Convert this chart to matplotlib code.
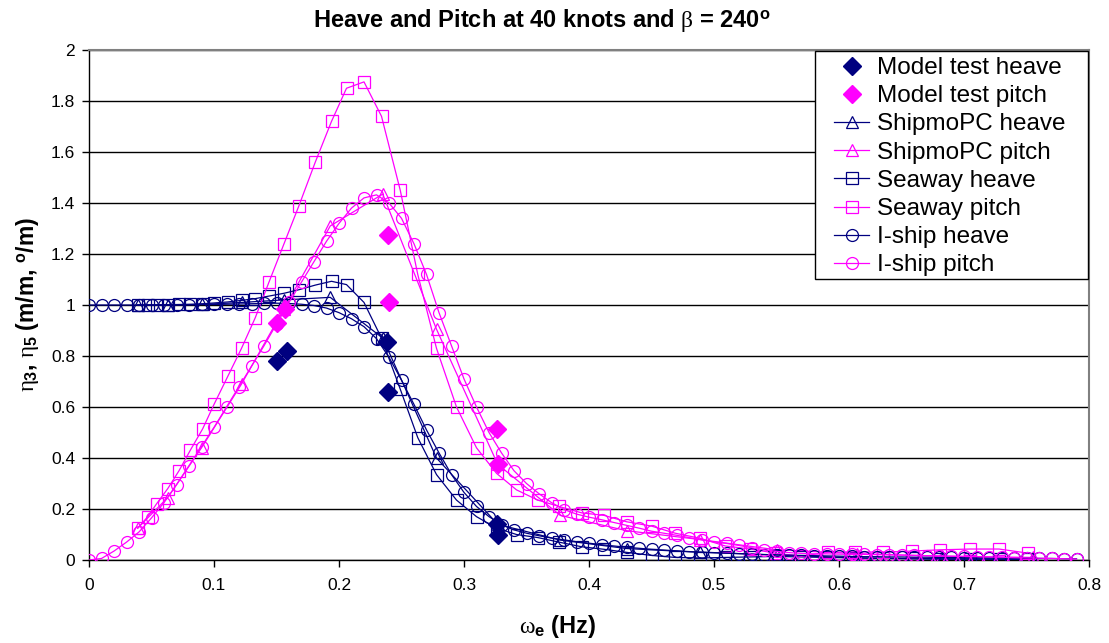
import matplotlib
matplotlib.use("Agg")
import matplotlib.pyplot as plt
from matplotlib.patches import Rectangle

plt.rcParams["font.family"] = ["Liberation Sans", "DejaVu Sans"]
plt.rcParams["mathtext.fontset"] = "custom"
plt.rcParams["mathtext.rm"] = "Liberation Sans"
plt.rcParams["mathtext.bf"] = "Liberation Sans:bold"
plt.rcParams["mathtext.it"] = "Liberation Serif"

# ---- data -------------------------------------------------------------
# Model tests (encounter frequency, Hz)
test_heave_x = [0.150, 0.158, 0.238, 0.239, 0.326, 0.327]
test_heave_y = [0.78, 0.82, 0.855, 0.66, 0.14, 0.10]
test_pitch_x = [0.150, 0.157, 0.239, 0.240, 0.326, 0.327]
test_pitch_y = [0.93, 0.985, 1.275, 1.01, 0.515, 0.375]

# ShipmoPC
shipmo_x = [0.039, 0.063, 0.090, 0.122, 0.156, 0.193, 0.235, 0.278,
            0.327, 0.377, 0.430, 0.489, 0.550, 0.614, 0.682, 0.755]
shipmo_heave = [1.000, 1.000, 1.002, 1.010, 1.020, 1.030, 0.870, 0.400,
                0.140, 0.078, 0.045, 0.030, 0.020, 0.008, 0.003, 0.003]
shipmo_pitch = [0.125, 0.245, 0.440, 0.690, 0.985, 1.310, 1.435, 0.905,
                0.375, 0.175, 0.115, 0.080, 0.040, 0.025, 0.015, 0.010]

# Seaway
seaway_x = [0.039, 0.047, 0.054, 0.063, 0.072, 0.081, 0.091, 0.100, 0.111, 0.122,
            0.133, 0.144, 0.156, 0.168, 0.181, 0.194, 0.206, 0.220, 0.234, 0.249,
            0.263, 0.278, 0.294, 0.310, 0.326, 0.342, 0.359, 0.376, 0.394, 0.412,
            0.430, 0.450, 0.469, 0.489, 0.509, 0.529, 0.549, 0.570, 0.591, 0.613,
            0.635, 0.658, 0.681, 0.705, 0.728, 0.751]
seaway_heave = [1.000, 1.000, 1.000, 1.001, 1.002, 1.003, 1.005, 1.008, 1.012, 1.018,
                1.025, 1.035, 1.046, 1.060, 1.078, 1.093, 1.080, 1.010, 0.870, 0.670,
                0.480, 0.335, 0.235, 0.170, 0.125, 0.100, 0.088, 0.070, 0.052, 0.042,
                0.030, 0.018, 0.010, 0.008, 0.010, 0.012, 0.014, 0.012, 0.010, 0.008,
                0.007, 0.006, 0.005, 0.005, 0.004, 0.004]
seaway_pitch = [0.125, 0.170, 0.220, 0.280, 0.350, 0.430, 0.515, 0.610, 0.720, 0.830,
                0.950, 1.090, 1.240, 1.390, 1.560, 1.720, 1.850, 1.875, 1.740, 1.450,
                1.120, 0.830, 0.600, 0.440, 0.340, 0.275, 0.235, 0.210, 0.185, 0.175,
                0.150, 0.133, 0.105, 0.085, 0.055, 0.043, 0.027, 0.015, 0.030, 0.032,
                0.031, 0.035, 0.040, 0.043, 0.043, 0.027]

# I-ship
iship_x = [0.00, 0.01, 0.02, 0.03, 0.04, 0.05, 0.06, 0.07, 0.08, 0.09,
           0.10, 0.11, 0.12, 0.13, 0.14, 0.15, 0.16, 0.17, 0.18, 0.19,
           0.20, 0.21, 0.22, 0.23, 0.24, 0.25, 0.26, 0.27, 0.28, 0.29,
           0.30, 0.31, 0.32, 0.33, 0.34, 0.35, 0.36, 0.37, 0.38, 0.39,
           0.40, 0.41, 0.42, 0.43, 0.44, 0.45, 0.46, 0.47, 0.48, 0.49,
           0.50, 0.51, 0.52, 0.53, 0.54, 0.55, 0.56, 0.57, 0.58, 0.59,
           0.60, 0.61, 0.62, 0.63, 0.64, 0.65, 0.66, 0.67, 0.68, 0.69,
           0.70, 0.71, 0.72, 0.73, 0.74, 0.75, 0.76, 0.77, 0.78, 0.79]
iship_heave = [1.000, 1.000, 1.000, 1.000, 1.000, 1.000, 1.000, 1.001, 1.001, 1.002,
               1.002, 1.003, 1.004, 1.005, 1.006, 1.007, 1.006, 1.003, 0.998, 0.988,
               0.970, 0.946, 0.915, 0.868, 0.795, 0.705, 0.610, 0.510, 0.420, 0.335,
               0.265, 0.210, 0.170, 0.138, 0.118, 0.105, 0.095, 0.086, 0.079, 0.072,
               0.066, 0.060, 0.055, 0.050, 0.046, 0.042, 0.039, 0.036, 0.033, 0.031,
               0.029, 0.027, 0.025, 0.023, 0.021, 0.020, 0.019, 0.018, 0.017, 0.016,
               0.015, 0.014, 0.013, 0.013, 0.012, 0.012, 0.011, 0.011, 0.010, 0.010,
               0.009, 0.009, 0.008, 0.008, 0.007, 0.007, 0.006, 0.006, 0.005, 0.005]
iship_pitch = [0.000, 0.006, 0.035, 0.070, 0.110, 0.165, 0.225, 0.295, 0.370, 0.445,
               0.520, 0.600, 0.680, 0.760, 0.840, 0.925, 1.010, 1.090, 1.170, 1.250,
               1.320, 1.380, 1.420, 1.432, 1.400, 1.340, 1.240, 1.120, 0.970, 0.840,
               0.710, 0.600, 0.500, 0.420, 0.350, 0.300, 0.260, 0.225, 0.198, 0.180,
               0.168, 0.158, 0.147, 0.136, 0.125, 0.113, 0.105, 0.097, 0.088, 0.079,
               0.071, 0.065, 0.057, 0.048, 0.040, 0.034, 0.029, 0.026, 0.024, 0.024,
               0.023, 0.022, 0.022, 0.021, 0.020, 0.019, 0.018, 0.017, 0.016, 0.015,
               0.014, 0.013, 0.012, 0.011, 0.009, 0.008, 0.007, 0.006, 0.005, 0.004]

x_ticks = [0.0, 0.1, 0.2, 0.3, 0.4, 0.5, 0.6, 0.7, 0.8]
x_tick_labels = ["0", "0.1", "0.2", "0.3", "0.4", "0.5", "0.6", "0.7", "0.8"]
y_ticks = [0.0, 0.2, 0.4, 0.6, 0.8, 1.0, 1.2, 1.4, 1.6, 1.8, 2.0]
y_tick_labels = ["0", "0.2", "0.4", "0.6", "0.8", "1", "1.2", "1.4", "1.6", "1.8", "2"]

# ---- figure -----------------------------------------------------------
NAVY = "#000080"
MAGENTA = "#FF00FF"
W, H = 1109, 643

fig = plt.figure(figsize=(W / 100, H / 100), dpi=100)
ax = fig.add_axes([89 / W, 83 / H, 1000 / W, 510 / H])

line_kw = dict(linewidth=0.9, markerfacecolor="none", markeredgewidth=0.9)

h_sh, = ax.plot(shipmo_x, shipmo_heave, color=NAVY, marker="^", markersize=8.5,
                label="ShipmoPC heave", zorder=3, **line_kw)
h_sp, = ax.plot(shipmo_x, shipmo_pitch, color=MAGENTA, marker="^", markersize=8.5,
                label="ShipmoPC pitch", zorder=3, **line_kw)
h_wh, = ax.plot(seaway_x, seaway_heave, color=NAVY, marker="s", markersize=8.3,
                label="Seaway heave", zorder=3, **line_kw)
h_wp, = ax.plot(seaway_x, seaway_pitch, color=MAGENTA, marker="s", markersize=8.3,
                label="Seaway pitch", zorder=3, **line_kw)
h_ih, = ax.plot(iship_x, iship_heave, color=NAVY, marker="o", markersize=8.6,
                label="I-ship heave", zorder=3, **line_kw)
h_ip, = ax.plot(iship_x, iship_pitch, color=MAGENTA, marker="o", markersize=8.6,
                label="I-ship pitch", zorder=3, **line_kw)
h_th, = ax.plot(test_heave_x, test_heave_y, linestyle="none", marker="D",
                markersize=9, color=NAVY, label="Model test heave", zorder=4)
h_tp, = ax.plot(test_pitch_x, test_pitch_y, linestyle="none", marker="D",
                markersize=9, color=MAGENTA, label="Model test pitch", zorder=4)

ax.set_xlim(0, 0.8)
ax.set_ylim(0, 2)
ax.set_xticks(x_ticks)
ax.set_xticklabels(x_tick_labels)
ax.set_yticks(y_ticks)
ax.set_yticklabels(y_tick_labels)
ax.tick_params(axis="both", direction="out", length=5, width=1, labelsize=12.5,
               colors="black")
ax.tick_params(axis="x", pad=8)
ax.tick_params(axis="y", pad=5)

ax.yaxis.grid(True, color="black", linewidth=1)
ax.set_axisbelow(True)
for side in ("top", "right"):
    ax.spines[side].set_color("#808080")
    ax.spines[side].set_linewidth(1.5)
for side in ("left", "bottom"):
    ax.spines[side].set_color("black")
    ax.spines[side].set_linewidth(1)

fig.text(542 / W, 1 - 20 / H,
         r"Heave and Pitch at 40 knots and $\mathit{\beta}$ = 240$^\mathbf{o}$",
         ha="center", va="center", fontsize=17, fontweight="bold")

fig.text(558 / W, 1 - 627 / H, r"$\mathit{\omega}_\mathbf{e}$ (Hz)",
         ha="center", va="center", fontsize=17, fontweight="bold")
fig.text(28 / W, 1 - 305 / H,
         r"$\mathit{\eta}_\mathregular{3}$, $\mathit{\eta}_\mathregular{5}$ (m/m, $^\mathbf{o}$/m)",
         ha="center", va="center", rotation=90, fontsize=16.5, fontweight="bold")

# legend box
ax.add_patch(Rectangle((815 / W, 1 - 279 / H), 273 / W, 228 / H,
                       transform=fig.transFigure, facecolor="white",
                       edgecolor="black", linewidth=1, zorder=9, clip_on=False))
handles = [h_th, h_tp, h_sh, h_sp, h_wh, h_wp, h_ih, h_ip]
leg = ax.legend(handles=handles, loc="upper left",
                bbox_to_anchor=(834 / W, 1 - 57 / H), bbox_transform=fig.transFigure,
                borderaxespad=0, borderpad=0, fontsize=17.5, frameon=False,
                handlelength=1.45, handletextpad=0.3, labelspacing=0.255)
leg.set_zorder(10)

fig.savefig("out.png", dpi=100)
